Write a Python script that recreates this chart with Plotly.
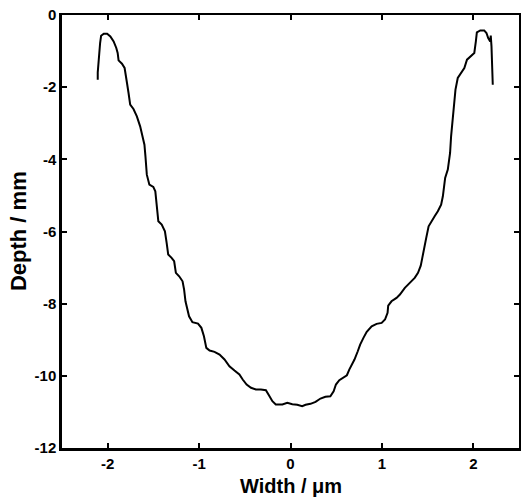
import plotly.graph_objects as go

width_um = [-2.109, -2.109, -2.083, -2.072, -2.043, -2.006, -1.971, -1.935, -1.906, -1.891,
            -1.881, -1.844, -1.815, -1.800, -1.789, -1.772, -1.754, -1.718, -1.681, -1.645,
            -1.620, -1.598, -1.587, -1.572, -1.544, -1.501, -1.479, -1.464, -1.446, -1.409,
            -1.374, -1.355, -1.338, -1.301, -1.273, -1.254, -1.218, -1.181, -1.164, -1.149,
            -1.138, -1.110, -1.073, -1.012, -0.975, -0.947, -0.921, -0.885, -0.831, -0.776,
            -0.722, -0.668, -0.613, -0.559, -0.523, -0.480, -0.432, -0.378, -0.324, -0.269,
            -0.241, -0.198, -0.161, -0.089, -0.035, 0.020, 0.074, 0.128, 0.165, 0.219,
            0.274, 0.328, 0.382, 0.436, 0.472, 0.497, 0.534, 0.581, 0.617, 0.643,
            0.671, 0.700, 0.736, 0.762, 0.798, 0.834, 0.888, 0.942, 0.997, 1.034,
            1.062, 1.069, 1.105, 1.160, 1.197, 1.251, 1.305, 1.359, 1.395, 1.425,
            1.442, 1.460, 1.485, 1.511, 1.540, 1.577, 1.612, 1.648, 1.667, 1.678,
            1.692, 1.721, 1.739, 1.746, 1.757, 1.775, 1.794, 1.805, 1.830, 1.865,
            1.902, 1.931, 1.974, 2.011, 2.028, 2.039, 2.076, 2.119, 2.144, 2.163,
            2.185, 2.191, 2.199, 2.206, 2.213]
depth_mm = [-1.792, -1.590, -0.776, -0.573, -0.518, -0.518, -0.593, -0.731, -0.914, -1.053,
            -1.258, -1.349, -1.468, -1.654, -1.884, -2.161, -2.485, -2.604, -2.809, -3.086,
            -3.363, -3.593, -3.917, -4.424, -4.701, -4.765, -4.886, -5.208, -5.717, -5.809,
            -5.994, -6.316, -6.640, -6.731, -6.825, -7.147, -7.241, -7.380, -7.609, -7.934,
            -8.072, -8.349, -8.515, -8.551, -8.670, -8.903, -9.224, -9.299, -9.335, -9.410,
            -9.548, -9.734, -9.853, -9.964, -10.102, -10.241, -10.332, -10.379, -10.379, -10.399,
            -10.518, -10.704, -10.795, -10.795, -10.748, -10.787, -10.803, -10.842, -10.803, -10.776,
            -10.720, -10.629, -10.582, -10.565, -10.427, -10.241, -10.122, -10.055, -9.983, -9.826,
            -9.687, -9.548, -9.319, -9.133, -8.947, -8.781, -8.626, -8.560, -8.532, -8.440,
            -8.255, -8.053, -7.934, -7.839, -7.748, -7.562, -7.424, -7.285, -7.147, -6.945,
            -6.731, -6.454, -6.177, -5.856, -5.717, -5.579, -5.440, -5.255, -5.025, -4.748,
            -4.515, -4.285, -4.008, -3.823, -3.363, -2.900, -2.438, -2.069, -1.745, -1.607,
            -1.468, -1.238, -1.147, -1.053, -0.731, -0.482, -0.427, -0.427, -0.499, -0.637,
            -0.731, -0.573, -0.870, -1.330, -1.931]

x_ticks = [-2, -1, 0, 1, 2]
x_ticklabels = ["-2", "-1", "0", "1", "2"]
y_ticks = [0, -2, -4, -6, -8, -10, -12]
y_ticklabels = ["0", "-2", "-4", "-6", "-8", "-10", "-12"]
x_title = "Width / μm"
y_title = "Depth / mm"

fig = go.Figure()
fig.add_trace(go.Scatter(x=width_um, y=depth_mm, mode="lines",
                         line=dict(color="black", width=2), showlegend=False))
# invisible trace to anchor the mirrored top/right axes
fig.add_trace(go.Scatter(x=[0], y=[0], xaxis="x2", yaxis="y2", mode="markers",
                         marker=dict(opacity=0), showlegend=False, hoverinfo="skip"))

fam = "Liberation Sans, Arial, sans-serif"
tickfont = dict(family=fam, size=15, color="black")

fig.update_layout(
    width=521, height=501,
    margin=dict(l=62, r=2, t=15, b=53),
    paper_bgcolor="white", plot_bgcolor="white",
    xaxis=dict(range=[-2.5, 2.5], tickvals=x_ticks,
               ticktext=["<b>%s</b>" % t for t in x_ticklabels],
               ticks="inside", ticklen=5, tickwidth=2,
               tickcolor="black", showline=True, linecolor="black", linewidth=2.5,
               showgrid=False, zeroline=False, tickfont=tickfont),
    yaxis=dict(range=[-12, 0], tickvals=y_ticks,
               ticktext=["<b>%s</b>" % t for t in y_ticklabels],
               ticks="inside", ticklen=5, tickwidth=2,
               tickcolor="black", showline=True, linecolor="black", linewidth=2.5,
               showgrid=False, zeroline=False, tickfont=tickfont),
    xaxis2=dict(range=[-2.5, 2.5], tickvals=x_ticks, ticks="inside", ticklen=5, tickwidth=1.5,
                tickcolor="black", showline=True, linecolor="black", linewidth=1.5,
                showgrid=False, zeroline=False, showticklabels=False,
                overlaying="x", side="top", anchor="y"),
    yaxis2=dict(range=[-12, 0], tickvals=y_ticks, ticks="inside", ticklen=5, tickwidth=1.5,
                tickcolor="black", showline=True, linecolor="black", linewidth=1.5,
                showgrid=False, zeroline=False, showticklabels=False,
                overlaying="y", side="right", anchor="x"),
    annotations=[
        dict(text="<b>%s</b>" % x_title, xref="paper", yref="paper", x=0.5, y=-0.088,
             xanchor="center", yanchor="middle", showarrow=False,
             font=dict(family=fam, size=20, color="black")),
        dict(text="<b>%s</b>" % y_title, xref="paper", yref="paper", x=-0.095, y=0.5,
             xanchor="center", yanchor="middle", showarrow=False, textangle=-90,
             font=dict(family=fam, size=22, color="black")),
    ],
)

fig.write_html("out.html")
